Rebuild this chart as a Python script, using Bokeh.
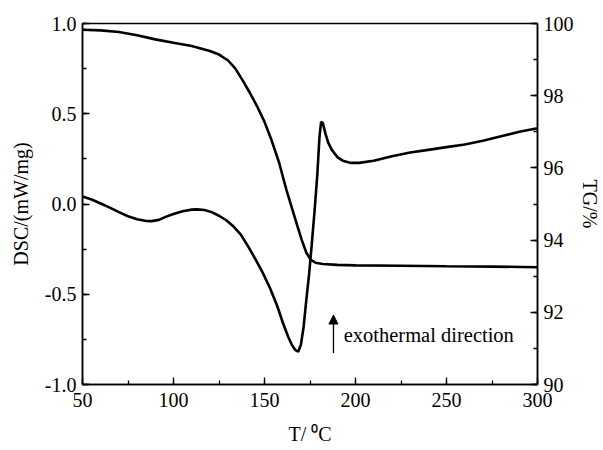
from bokeh.plotting import figure
from bokeh.models import Range1d, LinearAxis, Label, Arrow, NormalHead, SingleIntervalTicker, CustomJSTickFormatter
from bokeh.embed import file_html
from bokeh.resources import INLINE

# DSC curve (mW/mg)
T_dsc = [50, 55, 60, 65, 70, 75, 80, 85, 88, 92, 96, 100, 105, 110, 113, 117, 121, 125,
         129, 133, 137, 141, 145, 149, 153, 157, 160, 163, 165, 167, 168.5, 170, 171.5,
         173, 174.5, 176, 177.5, 179, 180.2, 181.1, 182, 183.5, 185, 187, 190, 193, 197,
         202, 210, 220, 230, 240, 250, 260, 270, 280, 290, 300]
dsc = [0.042, 0.025, 0.003, -0.02, -0.045, -0.068, -0.085, -0.094, -0.095, -0.088, -0.07,
       -0.055, -0.04, -0.031, -0.03, -0.033, -0.045, -0.065, -0.09, -0.125, -0.17, -0.235,
       -0.305, -0.38, -0.465, -0.565, -0.655, -0.735, -0.78, -0.81, -0.818, -0.78, -0.68,
       -0.53, -0.39, -0.22, -0.04, 0.16, 0.37, 0.455, 0.45, 0.39, 0.34, 0.30, 0.26, 0.24,
       0.228, 0.228, 0.24, 0.265, 0.285, 0.30, 0.315, 0.33, 0.35, 0.375, 0.40, 0.42]

# TG curve (%)
T_tg = [50, 60, 70, 80, 90, 100, 110, 120, 125, 130, 134, 138, 142, 146, 150, 154, 158,
        162, 165, 168, 170.5, 173, 175.5, 178, 182, 190, 200, 225, 250, 275, 300]
tg = [99.825, 99.81, 99.765, 99.675, 99.56, 99.465, 99.375, 99.24, 99.14, 98.975, 98.75,
      98.425, 98.075, 97.7, 97.275, 96.75, 96.15, 95.4, 94.9, 94.4, 94.0, 93.65, 93.45,
      93.375, 93.34, 93.315, 93.3, 93.29, 93.275, 93.265, 93.25]

x_label = "T/ \u2070C"
y_label = "DSC/(mW/mg)"
y2_label = "TG/%"
note_text = "exothermal direction"
note_T = 193.5
note_dsc = -0.723
arrow_T = 187.9
arrow_from = -0.825
arrow_to = -0.615

FONT = "Liberation Serif"
FS = "20px"

p = figure(frame_width=455, frame_height=361, output_backend="svg", toolbar_location=None,
           x_range=Range1d(50, 300), y_range=Range1d(-1.0, 1.0),
           min_border_left=82, min_border_right=0, min_border_top=23, min_border_bottom=0)
p.extra_y_ranges = {"tg": Range1d(90, 100)}
p.xgrid.visible = False
p.ygrid.visible = False
p.outline_line_color = "black"
p.outline_line_width = 1.5
p.background_fill_color = "white"
p.border_fill_color = "white"

p.line(T_dsc, dsc, line_color="black", line_width=2.6)
p.line(T_tg, tg, line_color="black", line_width=2.6, y_range_name="tg")

def style(ax):
    ax.axis_line_color = "black"
    ax.axis_line_width = 1.5
    ax.major_tick_in = 7
    ax.major_tick_out = 0
    ax.minor_tick_in = 4
    ax.minor_tick_out = 0
    ax.major_tick_line_color = "black"
    ax.minor_tick_line_color = "black"
    ax.major_tick_line_width = 1.3
    ax.minor_tick_line_width = 1.3
    ax.major_label_text_font = FONT
    ax.major_label_text_font_size = FS
    ax.major_label_text_color = "black"
    ax.axis_label_text_font = FONT
    ax.axis_label_text_font_size = FS
    ax.axis_label_text_font_style = "normal"
    ax.axis_label_text_color = "black"

xa = p.xaxis[0]
xa.ticker = SingleIntervalTicker(interval=50, num_minor_ticks=2)
style(xa)
xa.axis_label = x_label
xa.major_label_standoff = 8
xa.axis_label_standoff = 13

ya = p.yaxis[0]
ya.ticker = SingleIntervalTicker(interval=0.5, num_minor_ticks=2)
ya.formatter = CustomJSTickFormatter(code="return tick.toFixed(1);")
style(ya)
ya.axis_label = y_label
ya.major_label_standoff = 6
ya.axis_label_standoff = 10

ra = LinearAxis(y_range_name="tg", ticker=SingleIntervalTicker(interval=2, num_minor_ticks=2))
style(ra)
ra.axis_label = y2_label
ra.major_label_standoff = 6
ra.axis_label_standoff = 2
p.add_layout(ra, "right")

p.add_layout(Arrow(end=NormalHead(size=9, fill_color="black", line_color="black"),
                   x_start=arrow_T, y_start=arrow_from, x_end=arrow_T, y_end=arrow_to,
                   line_color="black", line_width=1.3))
p.add_layout(Label(x=note_T, y=note_dsc, text=note_text, text_font=FONT,
                   text_font_size="20.5px", text_baseline="middle", text_color="black"))

open("out.html", "w").write(file_html(p, INLINE))
